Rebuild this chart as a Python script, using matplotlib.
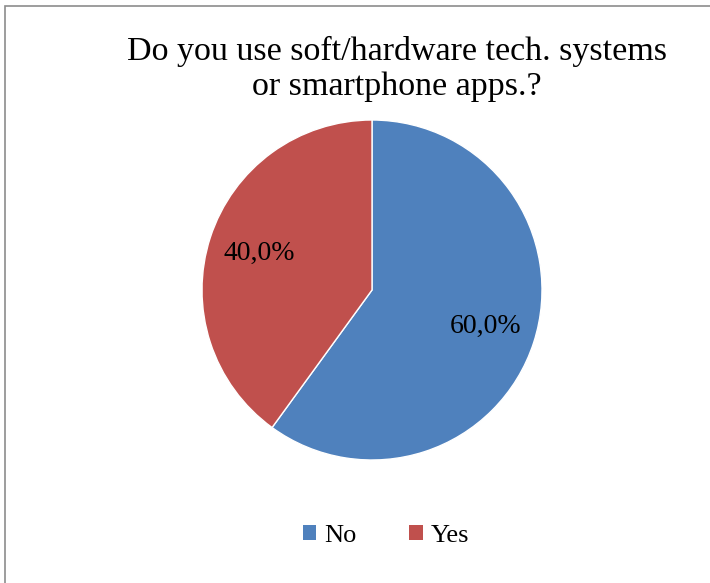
import matplotlib
matplotlib.use("Agg")
import matplotlib.pyplot as plt
from matplotlib.patches import Rectangle, Patch

labels = ["No", "Yes"]
values = [60.0, 40.0]
colors = ["#4F81BD", "#C0504D"]

plt.rcParams['font.family'] = ['Liberation Serif', 'DejaVu Serif']

fig = plt.figure(figsize=(7.1, 5.83), dpi=100)

# chart frame (left/top visible, right/bottom run off the picture)
fig.patches.append(Rectangle((5 / 710, -0.1), 1.2, 1 - 6 / 583 + 0.1,
                             transform=fig.transFigure, fill=False,
                             edgecolor='#8c8c8c', linewidth=1.2))

ax = fig.add_axes([202 / 710, 123 / 583, 340 / 710, 340 / 583])
ax.pie(values, colors=colors, startangle=90, counterclock=False,
       autopct=lambda p: f"{p:.1f}%".replace('.', ','), pctdistance=0.7,
       wedgeprops=dict(edgecolor='white', linewidth=1),
       textprops=dict(fontsize=20, color='black'))
ax.set_xlim(-1, 1)
ax.set_ylim(-1, 1)
ax.set_aspect('equal')

fig.text(397 / 710, 1 - 69 / 583, "Do you use soft/hardware tech. systems\nor smartphone apps.?",
         ha='center', va='center', fontsize=24.5, linespacing=1.2)

handles = [Patch(facecolor=c, edgecolor='none') for c in colors]
fig.legend(handles, labels, loc='center', bbox_to_anchor=(386 / 710, 1 - 536 / 583),
           ncol=2, frameon=False, fontsize=19, handlelength=0.5, handleheight=0.5,
           handletextpad=0.3, columnspacing=2.0)

fig.savefig("out.png", dpi=100)
